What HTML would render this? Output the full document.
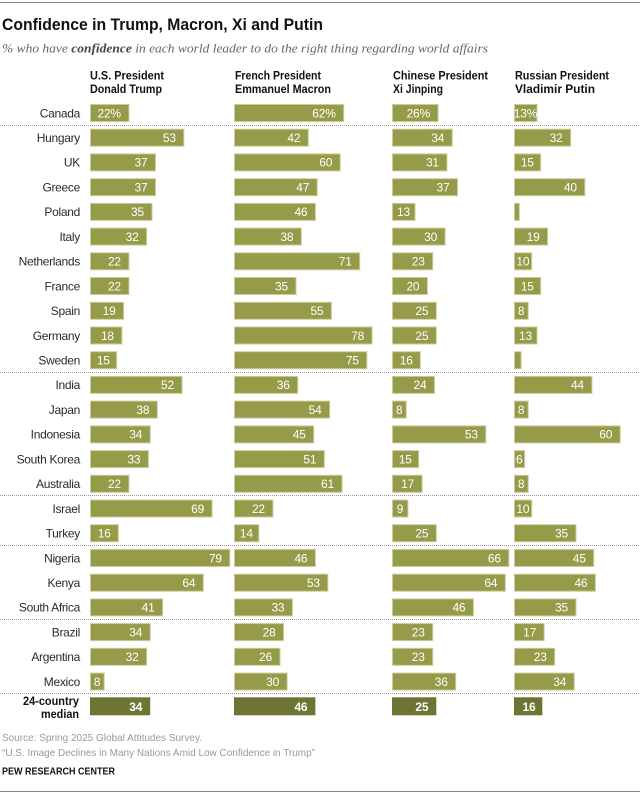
<!DOCTYPE html>
<html><head><meta charset="utf-8"><style>
html,body{margin:0;padding:0;background:#fff;}
svg{display:block;}
.c{font-family:"Liberation Sans",Arial,sans-serif;font-size:12px;fill:#2a2a2a;text-anchor:end;letter-spacing:-0.3px;}
.v{font-family:"Liberation Sans",Arial,sans-serif;font-size:12px;fill:#fff;letter-spacing:-0.2px;}
.e{text-anchor:end;} .m{text-anchor:middle;}
.b rect{fill:#959b48;stroke:#c9cd9c;stroke-width:1;}
.h{font-family:"Liberation Sans",Arial,sans-serif;font-size:11.5px;font-weight:bold;fill:#111;}
.sep{stroke:#9a9a9a;stroke-width:1;stroke-dasharray:1 1;}
</style></head><body>
<svg width="640" height="794" viewBox="0 0 640 794" xmlns="http://www.w3.org/2000/svg">
<line x1="0" y1="2.5" x2="640" y2="2.5" stroke="#8a8a8a" stroke-width="1"/>
<text x="2" y="30" font-family="Liberation Sans, Arial, sans-serif" font-size="16.5" font-weight="bold" fill="#111" textLength="321" lengthAdjust="spacingAndGlyphs">Confidence in Trump, Macron, Xi and Putin</text>
<text x="2" y="52.5" font-family="Liberation Serif, serif" font-size="13" font-style="italic" fill="#666" textLength="486" lengthAdjust="spacingAndGlyphs">% who have <tspan font-weight="bold" fill="#444">confidence</tspan> in each world leader to do the right thing regarding world affairs</text>

<text class="h" x="90" y="79.5" textLength="74" lengthAdjust="spacingAndGlyphs">U.S. President</text>
<text class="h" x="90" y="93" textLength="72" lengthAdjust="spacingAndGlyphs">Donald Trump</text>
<text class="h" x="235" y="79.5" textLength="86" lengthAdjust="spacingAndGlyphs">French President</text>
<text class="h" x="235" y="93" textLength="96" lengthAdjust="spacingAndGlyphs">Emmanuel Macron</text>
<text class="h" x="393" y="79.5" textLength="95" lengthAdjust="spacingAndGlyphs">Chinese President</text>
<text class="h" x="393" y="93" textLength="50" lengthAdjust="spacingAndGlyphs">Xi Jinping</text>
<text class="h" x="515" y="79.5" textLength="94" lengthAdjust="spacingAndGlyphs">Russian President</text>
<text class="h" x="515" y="93" textLength="80" lengthAdjust="spacingAndGlyphs">Vladimir Putin</text>

<line class="sep" x1="0" y1="125.5" x2="640" y2="125.5"/>
<line class="sep" x1="0" y1="372.5" x2="640" y2="372.5"/>
<line class="sep" x1="0" y1="495.5" x2="640" y2="495.5"/>
<line class="sep" x1="0" y1="545.5" x2="640" y2="545.5"/>
<line class="sep" x1="0" y1="619.5" x2="640" y2="619.5"/>
<line class="sep" x1="0" y1="693.5" x2="640" y2="693.5"/>

<!-- country labels -->
<text class="c" x="80" y="117.3">Canada</text>
<text class="c" x="80" y="142">Hungary</text>
<text class="c" x="80" y="166.7">UK</text>
<text class="c" x="80" y="191.5">Greece</text>
<text class="c" x="80" y="216.2">Poland</text>
<text class="c" x="80" y="240.9">Italy</text>
<text class="c" x="80" y="265.6">Netherlands</text>
<text class="c" x="80" y="290.3">France</text>
<text class="c" x="80" y="315.1">Spain</text>
<text class="c" x="80" y="339.8">Germany</text>
<text class="c" x="80" y="364.5">Sweden</text>
<text class="c" x="80" y="389.2">India</text>
<text class="c" x="80" y="413.9">Japan</text>
<text class="c" x="80" y="438.7">Indonesia</text>
<text class="c" x="80" y="463.4">South Korea</text>
<text class="c" x="80" y="488.1">Australia</text>
<text class="c" x="80" y="512.8">Israel</text>
<text class="c" x="80" y="537.5">Turkey</text>
<text class="c" x="80" y="562.3">Nigeria</text>
<text class="c" x="80" y="587">Kenya</text>
<text class="c" x="80" y="611.7">South Africa</text>
<text class="c" x="80" y="636.4">Brazil</text>
<text class="c" x="80" y="661.1">Argentina</text>
<text class="c" x="80" y="685.9">Mexico</text>
<text x="23" y="705" font-family="Liberation Sans, Arial, sans-serif" font-size="12" font-weight="bold" fill="#111" textLength="56" lengthAdjust="spacingAndGlyphs">24-country</text>
<text x="41" y="718" font-family="Liberation Sans, Arial, sans-serif" font-size="12" font-weight="bold" fill="#111" textLength="38" lengthAdjust="spacingAndGlyphs">median</text>

<g class="b">
<!-- Trump x0=90 -->
<rect x="90.5" y="104.5" width="38.4" height="17"/>
<rect x="90.5" y="129.2" width="93.3" height="17"/>
<rect x="90.5" y="153.9" width="65" height="17"/>
<rect x="90.5" y="178.7" width="65" height="17"/>
<rect x="90.5" y="203.4" width="61.5" height="17"/>
<rect x="90.5" y="228.1" width="56.1" height="17"/>
<rect x="90.5" y="252.8" width="38.4" height="17"/>
<rect x="90.5" y="277.5" width="38.4" height="17"/>
<rect x="90.5" y="302.3" width="33.1" height="17"/>
<rect x="90.5" y="327" width="31.4" height="17"/>
<rect x="90.5" y="351.7" width="26.1" height="17"/>
<rect x="90.5" y="376.4" width="91.5" height="17"/>
<rect x="90.5" y="401.1" width="66.8" height="17"/>
<rect x="90.5" y="425.9" width="59.7" height="17"/>
<rect x="90.5" y="450.6" width="57.9" height="17"/>
<rect x="90.5" y="475.3" width="38.4" height="17"/>
<rect x="90.5" y="500" width="121.6" height="17"/>
<rect x="90.5" y="524.7" width="27.8" height="17"/>
<rect x="90.5" y="549.5" width="139.3" height="17"/>
<rect x="90.5" y="574.2" width="112.8" height="17"/>
<rect x="90.5" y="598.9" width="72.1" height="17"/>
<rect x="90.5" y="623.6" width="59.7" height="17"/>
<rect x="90.5" y="648.3" width="56.1" height="17"/>
<rect x="90.5" y="673.1" width="13.7" height="17"/>
<!-- Macron x0=234 -->
<rect x="234.5" y="104.5" width="109.2" height="17"/>
<rect x="234.5" y="129.2" width="73.8" height="17"/>
<rect x="234.5" y="153.9" width="105.7" height="17"/>
<rect x="234.5" y="178.7" width="82.7" height="17"/>
<rect x="234.5" y="203.4" width="80.9" height="17"/>
<rect x="234.5" y="228.1" width="66.8" height="17"/>
<rect x="234.5" y="252.8" width="125.2" height="17"/>
<rect x="234.5" y="277.5" width="61.5" height="17"/>
<rect x="234.5" y="302.3" width="96.9" height="17"/>
<rect x="234.5" y="327" width="137.6" height="17"/>
<rect x="234.5" y="351.7" width="132.3" height="17"/>
<rect x="234.5" y="376.4" width="63.2" height="17"/>
<rect x="234.5" y="401.1" width="95.1" height="17"/>
<rect x="234.5" y="425.9" width="79.2" height="17"/>
<rect x="234.5" y="450.6" width="89.8" height="17"/>
<rect x="234.5" y="475.3" width="107.5" height="17"/>
<rect x="234.5" y="500" width="38.4" height="17"/>
<rect x="234.5" y="524.7" width="24.3" height="17"/>
<rect x="234.5" y="549.5" width="80.9" height="17"/>
<rect x="234.5" y="574.2" width="93.3" height="17"/>
<rect x="234.5" y="598.9" width="57.9" height="17"/>
<rect x="234.5" y="623.6" width="49.1" height="17"/>
<rect x="234.5" y="648.3" width="45.5" height="17"/>
<rect x="234.5" y="673.1" width="52.6" height="17"/>
<!-- Xi x0=392 -->
<rect x="392.5" y="104.5" width="45.5" height="17"/>
<rect x="392.5" y="129.2" width="59.7" height="17"/>
<rect x="392.5" y="153.9" width="54.4" height="17"/>
<rect x="392.5" y="178.7" width="65" height="17"/>
<rect x="392.5" y="203.4" width="22.5" height="17"/>
<rect x="392.5" y="228.1" width="52.6" height="17"/>
<rect x="392.5" y="252.8" width="40.2" height="17"/>
<rect x="392.5" y="277.5" width="34.9" height="17"/>
<rect x="392.5" y="302.3" width="43.8" height="17"/>
<rect x="392.5" y="327" width="43.8" height="17"/>
<rect x="392.5" y="351.7" width="27.8" height="17"/>
<rect x="392.5" y="376.4" width="42" height="17"/>
<rect x="392.5" y="401.1" width="13.7" height="17"/>
<rect x="392.5" y="425.9" width="93.3" height="17"/>
<rect x="392.5" y="450.6" width="26.1" height="17"/>
<rect x="392.5" y="475.3" width="29.6" height="17"/>
<rect x="392.5" y="500" width="15.4" height="17"/>
<rect x="392.5" y="524.7" width="43.8" height="17"/>
<rect x="392.5" y="549.5" width="116.3" height="17"/>
<rect x="392.5" y="574.2" width="112.8" height="17"/>
<rect x="392.5" y="598.9" width="80.9" height="17"/>
<rect x="392.5" y="623.6" width="40.2" height="17"/>
<rect x="392.5" y="648.3" width="40.2" height="17"/>
<rect x="392.5" y="673.1" width="63.2" height="17"/>
<!-- Putin x0=514 -->
<rect x="514.5" y="104.5" width="22.5" height="17"/>
<rect x="514.5" y="129.2" width="56.1" height="17"/>
<rect x="514.5" y="153.9" width="26.1" height="17"/>
<rect x="514.5" y="178.7" width="70.3" height="17"/>
<rect x="514.5" y="203.4" width="4.8" height="17"/>
<rect x="514.5" y="228.1" width="33.1" height="17"/>
<rect x="514.5" y="252.8" width="17.2" height="17"/>
<rect x="514.5" y="277.5" width="26.1" height="17"/>
<rect x="514.5" y="302.3" width="13.7" height="17"/>
<rect x="514.5" y="327" width="22.5" height="17"/>
<rect x="514.5" y="351.7" width="6.6" height="17"/>
<rect x="514.5" y="376.4" width="77.4" height="17"/>
<rect x="514.5" y="401.1" width="13.7" height="17"/>
<rect x="514.5" y="425.9" width="105.7" height="17"/>
<rect x="514.5" y="450.6" width="10.1" height="17"/>
<rect x="514.5" y="475.3" width="13.7" height="17"/>
<rect x="514.5" y="500" width="17.2" height="17"/>
<rect x="514.5" y="524.7" width="61.5" height="17"/>
<rect x="514.5" y="549.5" width="79.2" height="17"/>
<rect x="514.5" y="574.2" width="80.9" height="17"/>
<rect x="514.5" y="598.9" width="61.5" height="17"/>
<rect x="514.5" y="623.6" width="29.6" height="17"/>
<rect x="514.5" y="648.3" width="40.2" height="17"/>
<rect x="514.5" y="673.1" width="59.7" height="17"/>
</g>
<!-- median bars -->
<g fill="#6e7434">
<rect x="90" y="697.3" width="60.2" height="18"/>
<rect x="234" y="697.3" width="81.4" height="18"/>
<rect x="392" y="697.3" width="44.3" height="18"/>
<rect x="514" y="697.3" width="28.3" height="18"/>
</g>

<!-- value labels: Trump -->
<text class="v e" x="120.9" y="117.3">22%</text>
<text class="v e" x="175.8" y="142">53</text>
<text class="v e" x="147.5" y="166.7">37</text>
<text class="v e" x="147.5" y="191.5">37</text>
<text class="v e" x="144" y="216.2">35</text>
<text class="v e" x="138.6" y="240.9">32</text>
<text class="v e" x="120.9" y="265.6">22</text>
<text class="v e" x="120.9" y="290.3">22</text>
<text class="v e" x="115.6" y="315.1">19</text>
<text class="v e" x="113.9" y="339.8">18</text>
<text class="v m" x="103.3" y="364.5">15</text>
<text class="v e" x="174" y="389.2">52</text>
<text class="v e" x="149.3" y="413.9">38</text>
<text class="v e" x="142.2" y="438.7">34</text>
<text class="v e" x="140.4" y="463.4">33</text>
<text class="v e" x="120.9" y="488.1">22</text>
<text class="v e" x="204.1" y="512.8">69</text>
<text class="v m" x="104.2" y="537.5">16</text>
<text class="v e" x="221.8" y="562.3">79</text>
<text class="v e" x="195.3" y="587">64</text>
<text class="v e" x="154.6" y="611.7">41</text>
<text class="v e" x="142.2" y="636.4">34</text>
<text class="v e" x="138.6" y="661.1">32</text>
<text class="v m" x="97.1" y="685.9">8</text>
<!-- Macron -->
<text class="v e" x="335.7" y="117.3">62%</text>
<text class="v e" x="300.3" y="142">42</text>
<text class="v e" x="332.2" y="166.7">60</text>
<text class="v e" x="309.2" y="191.5">47</text>
<text class="v e" x="307.4" y="216.2">46</text>
<text class="v e" x="293.3" y="240.9">38</text>
<text class="v e" x="351.7" y="265.6">71</text>
<text class="v e" x="288" y="290.3">35</text>
<text class="v e" x="323.4" y="315.1">55</text>
<text class="v e" x="364.1" y="339.8">78</text>
<text class="v e" x="358.8" y="364.5">75</text>
<text class="v e" x="289.7" y="389.2">36</text>
<text class="v e" x="321.6" y="413.9">54</text>
<text class="v e" x="305.7" y="438.7">45</text>
<text class="v e" x="316.3" y="463.4">51</text>
<text class="v e" x="334" y="488.1">61</text>
<text class="v e" x="264.9" y="512.8">22</text>
<text class="v m" x="246.4" y="537.5">14</text>
<text class="v e" x="307.4" y="562.3">46</text>
<text class="v e" x="319.8" y="587">53</text>
<text class="v e" x="284.4" y="611.7">33</text>
<text class="v e" x="275.6" y="636.4">28</text>
<text class="v e" x="272" y="661.1">26</text>
<text class="v e" x="279.1" y="685.9">30</text>
<!-- Xi -->
<text class="v e" x="430" y="117.3">26%</text>
<text class="v e" x="444.2" y="142">34</text>
<text class="v e" x="438.9" y="166.7">31</text>
<text class="v e" x="449.5" y="191.5">37</text>
<text class="v m" x="403.5" y="216.2">13</text>
<text class="v e" x="437.1" y="240.9">30</text>
<text class="v e" x="424.7" y="265.6">23</text>
<text class="v e" x="419.4" y="290.3">20</text>
<text class="v e" x="428.3" y="315.1">25</text>
<text class="v e" x="428.3" y="339.8">25</text>
<text class="v m" x="406.2" y="364.5">16</text>
<text class="v e" x="426.5" y="389.2">24</text>
<text class="v m" x="399.1" y="413.9">8</text>
<text class="v e" x="477.8" y="438.7">53</text>
<text class="v m" x="405.3" y="463.4">15</text>
<text class="v e" x="414.1" y="488.1">17</text>
<text class="v m" x="400" y="512.8">9</text>
<text class="v e" x="428.3" y="537.5">25</text>
<text class="v e" x="500.8" y="562.3">66</text>
<text class="v e" x="497.3" y="587">64</text>
<text class="v e" x="465.4" y="611.7">46</text>
<text class="v e" x="424.7" y="636.4">23</text>
<text class="v e" x="424.7" y="661.1">23</text>
<text class="v e" x="447.7" y="685.9">36</text>
<!-- Putin -->
<text class="v m" x="525.5" y="117.3">13%</text>
<text class="v e" x="562.6" y="142">32</text>
<text class="v m" x="527.3" y="166.7">15</text>
<text class="v e" x="576.8" y="191.5">40</text>
<text class="v e" x="539.6" y="240.9">19</text>
<text class="v m" x="522.9" y="265.6">10</text>
<text class="v m" x="527.3" y="290.3">15</text>
<text class="v m" x="521.1" y="315.1">8</text>
<text class="v m" x="525.5" y="339.8">13</text>
<text class="v e" x="583.9" y="389.2">44</text>
<text class="v m" x="521.1" y="413.9">8</text>
<text class="v e" x="612.2" y="438.7">60</text>
<text class="v m" x="519.3" y="463.4">6</text>
<text class="v m" x="521.1" y="488.1">8</text>
<text class="v m" x="522.9" y="512.8">10</text>
<text class="v e" x="568" y="537.5">35</text>
<text class="v e" x="585.7" y="562.3">45</text>
<text class="v e" x="587.4" y="587">46</text>
<text class="v e" x="568" y="611.7">35</text>
<text class="v e" x="536.1" y="636.4">17</text>
<text class="v e" x="546.7" y="661.1">23</text>
<text class="v e" x="566.2" y="685.9">34</text>
<!-- median values -->
<text class="v e" x="142.2" y="711" font-weight="bold">34</text>
<text class="v e" x="307.4" y="711" font-weight="bold">46</text>
<text class="v e" x="428.3" y="711" font-weight="bold">25</text>
<text class="v m" x="529" y="711" font-weight="bold">16</text>

<!-- footer -->
<text x="2" y="741" font-family="Liberation Sans, Arial, sans-serif" font-size="10.5" fill="#999" textLength="200" lengthAdjust="spacingAndGlyphs">Source: Spring 2025 Global Attitudes Survey.</text>
<text x="2" y="756" font-family="Liberation Sans, Arial, sans-serif" font-size="10.5" fill="#999" textLength="313" lengthAdjust="spacingAndGlyphs">“U.S. Image Declines in Many Nations Amid Low Confidence in Trump”</text>
<text x="2" y="774.5" font-family="Liberation Sans, Arial, sans-serif" font-size="10" font-weight="bold" fill="#111" textLength="113" lengthAdjust="spacingAndGlyphs">PEW RESEARCH CENTER</text>
<line x1="0" y1="791.5" x2="640" y2="791.5" stroke="#8a8a8a" stroke-width="1"/>
</svg>
</body></html>
